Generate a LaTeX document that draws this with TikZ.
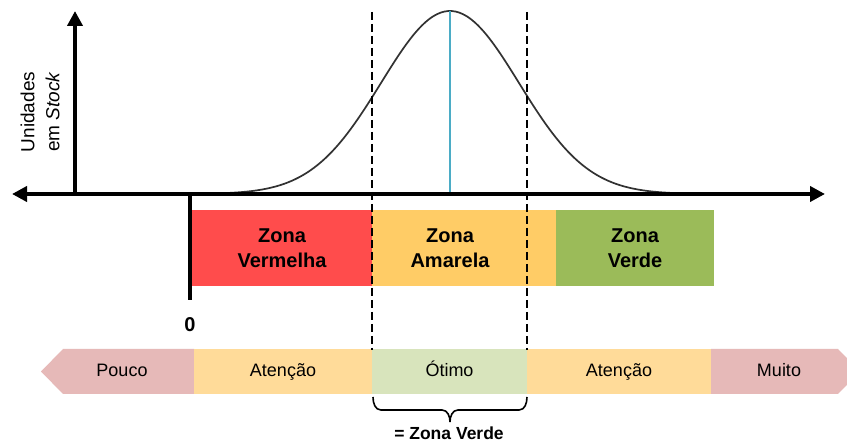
\documentclass[tikz,border=0pt]{standalone}
\usepackage{fontspec}
\setmainfont{Liberation Sans}
\usetikzlibrary{arrows.meta}
\definecolor{zred}{RGB}{255,76,76}
\definecolor{zyel}{RGB}{255,204,102}
\definecolor{zgrn}{RGB}{155,187,89}
\definecolor{bpink}{RGB}{230,185,184}
\definecolor{byel}{RGB}{255,219,153}
\definecolor{bgrn}{RGB}{216,228,188}
\definecolor{aqua}{RGB}{75,172,198}
\definecolor{curvegray}{RGB}{50,50,50}
\begin{document}
\begin{tikzpicture}[x=1pt,y=-1pt,
  axis/.style={line width=4pt,black},
  zone/.style={minimum height=76pt,inner sep=0pt,align=center,
    font=\fontsize{20}{25}\selectfont\bfseries},
  bartext/.style={font=\fontsize{18}{21}\selectfont,text height=13pt,text depth=3.7pt,inner sep=0pt},
  barcell/.style={bartext,minimum height=45pt},
  guide/.style={line width=1.8pt,dash pattern=on 8pt off 4pt},
  bracestyle/.style={line width=1.6pt}]
\useasboundingbox (0,0) rectangle (847,443);
\clip (0,0) rectangle (847,443);
\fill[white] (0,0) rectangle (847,443);

% bell curve
\draw[line width=1.7pt,curvegray,smooth] plot[domain=228:672,samples=120]
  ({\x},{194-183*exp(-0.5*((\x-450)/69)*((\x-450)/69))});
% peak line
\coordinate (pk) at (450,11);
\coordinate (pb) at (450,194);
\draw[aqua,line width=2pt] (pb) -- (pk);

% zone boxes
\node[zone,fill=zred,minimum width=180pt] (zv) at (282,248) {Zona\\Vermelha};
\node[zone,fill=zyel,minimum width=184pt] (za) at (464,248) {};
\node[zone] (zat) at (450,248) {Zona\\Amarela};
\node[zone,fill=zgrn,minimum width=158pt] (zg) at (635,248) {Zona\\Verde};

% bottom bar
\fill[bpink] (41,371.5) -- (63,349) -- (194,349) -- (194,394) -- (63,394) -- cycle;
\node[bartext] (pouco) at (122,371.5) {Pouco};
\node[barcell,fill=byel,minimum width=178pt] (at1) at (283,371.5) {Atenção};
\node[barcell,fill=bgrn,minimum width=155pt] (ot) at (449.5,371.5) {Ótimo};
\node[barcell,fill=byel,minimum width=184pt] (at2) at (619,371.5) {Atenção};
\fill[bpink] (711,349) -- (838,349) -- (860,371.5) -- (838,394) -- (711,394) -- cycle;
\node[bartext] (muito) at (779,371.5) {Muito};

% dashed guides
\coordinate (d1t) at (372,12); \coordinate (d1b) at (372,350);
\coordinate (d2t) at (527,12); \coordinate (d2b) at (527,350);
\draw[guide] (d1t) -- (d1b);
\draw[guide] (d2t) -- (d2b);

% axes
\coordinate (xl) at (12,194);
\coordinate (xr) at (825,194);
\coordinate (yb) at (75,194);
\coordinate (yt) at (75,11);
\draw[axis,{Triangle[length=15pt,width=15pt]}-{Triangle[length=15pt,width=15pt]}] (xl) -- (xr);
\draw[axis,-{Triangle[length=15pt,width=15pt]}] (yb) -- (yt);
\coordinate (zt) at (190,194);
\coordinate (zb) at (190,300);
\draw[axis] (zt) -- (zb);
\node[font=\fontsize{20}{24}\selectfont\bfseries] (zero) at (190,325) {0};

% axis label
\node[rotate=90,align=center,font=\fontsize{19}{25}\selectfont] (ylab) at (40,112) {Unidades\\em \textit{Stock}};

% brace
\coordinate (bl) at (373,397);
\coordinate (bm) at (450,422);
\coordinate (br) at (527,397);
\draw[bracestyle] (bl) to[out=-90,in=180] (381,410) -- (442,410) to[out=0,in=90] (bm);
\draw[bracestyle] (bm) to[out=90,in=180] (458,410) -- (519,410) to[out=0,in=-90] (br);
\node[font=\fontsize{17.5}{20}\selectfont\bfseries,inner sep=0pt,anchor=base] (zvlab) at (449,440) {= Zona Verde};
\end{tikzpicture}
\end{document}
